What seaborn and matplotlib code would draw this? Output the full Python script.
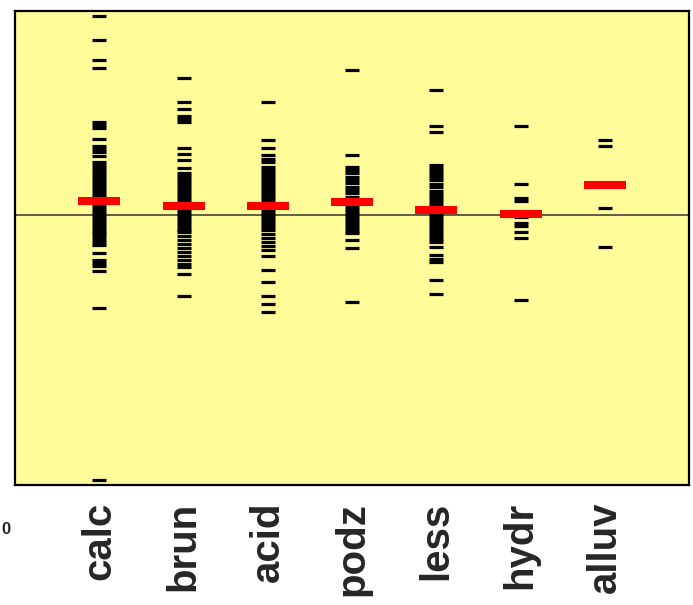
import matplotlib
matplotlib.use("Agg")
import matplotlib.pyplot as plt
import seaborn as sns
import pandas as pd

categories = ["calc", "brun", "acid", "podz", "less", "hydr", "alluv"]

calc = [1.99, 1.75, 1.55, 1.47, 0.93, 0.90, 0.87, 0.76, 0.69, 0.66, 0.63, 0.59,
        0.53, 0.50, 0.47, 0.44, 0.41, 0.38, 0.35, 0.32, 0.29, 0.26, 0.23, 0.20,
        0.17, 0.14, 0.11, 0.08, 0.05, 0.02, -0.01, -0.04, -0.07, -0.10, -0.13,
        -0.16, -0.18, -0.21, -0.24, -0.27, -0.30, -0.38, -0.45, -0.48, -0.51,
        -0.56, -0.93, -2.65]
brun = [1.37, 1.13, 1.06, 0.99, 0.96, 0.93, 0.67, 0.61, 0.55, 0.47,
        0.42, 0.39, 0.36, 0.33, 0.30, 0.27, 0.24, 0.21, 0.18, 0.15, 0.12, 0.09,
        0.06, 0.03, 0.00, -0.03, -0.06, -0.09, -0.12, -0.15, -0.17,
        -0.21, -0.25, -0.29, -0.33, -0.37, -0.41, -0.45, -0.49, -0.52, -0.59, -0.81]
acid = [1.13, 0.75, 0.67, 0.60, 0.56, 0.53,
        0.48, 0.45, 0.42, 0.39, 0.36, 0.33, 0.30, 0.27, 0.24, 0.21, 0.18, 0.15,
        0.12, 0.09, 0.06, 0.03, 0.00, -0.03, -0.06, -0.09, -0.12, -0.15,
        -0.19, -0.23, -0.27, -0.31, -0.35, -0.41, -0.55, -0.67, -0.81, -0.89, -0.97]
podz = [1.45, 0.60, 0.48, 0.45, 0.42, 0.38, 0.35, 0.32, 0.28, 0.25, 0.22, 0.18,
        0.15, 0.12, 0.08, 0.05, 0.02, -0.01, -0.04, -0.07, -0.10, -0.13, -0.16,
        -0.18, -0.25, -0.33, -0.87]
less = [1.25, 0.89, 0.83, 0.50, 0.47, 0.44, 0.41, 0.38, 0.35, 0.31, 0.28, 0.24,
        0.21, 0.18, 0.15, 0.12, 0.09, 0.06, 0.03, 0.00, -0.03, -0.06, -0.09,
        -0.12, -0.15, -0.18, -0.21, -0.24, -0.27, -0.32, -0.40, -0.44, -0.47,
        -0.65, -0.79]
hydr = [0.89, 0.31, 0.17, 0.14, -0.02, -0.08, -0.11, -0.17, -0.23, -0.85]
alluv = [0.75, 0.69, 0.07, -0.32]

means = [0.14, 0.09, 0.09, 0.13, 0.05, 0.01, 0.30]

series = [calc, brun, acid, podz, less, hydr, alluv]
rows = [(c, v) for c, vals in zip(categories, series) for v in vals]
df = pd.DataFrame(rows, columns=["soil", "value"])
df["soil"] = pd.Categorical(df["soil"], categories=categories, ordered=True)
dm = pd.DataFrame({"soil": pd.Categorical(categories, categories=categories, ordered=True),
                   "value": means})

sns.set_style("white")
plt.rcParams["font.family"] = ["Liberation Sans", "DejaVu Sans"]

fig = plt.figure(figsize=(6.93, 6.05), dpi=100)
ax = fig.add_axes([15 / 693, (605 - 485) / 605, 674 / 693, 474 / 605])
ax.set_facecolor("#FFFC99")

ax.axhline(0, color="#333333", lw=1.1, zorder=1)

sns.stripplot(data=df, x="soil", y="value", order=categories, jitter=False,
              marker="_", size=10, linewidth=2.3, color="black",
              edgecolor="black", ax=ax, zorder=3)
sns.stripplot(data=dm, x="soil", y="value", order=categories, jitter=False,
              marker="_", size=30, linewidth=5.8, color="#FF0000",
              edgecolor="#FF0000", ax=ax, zorder=4)

ax.set_xlim(-1, 7)
ax.set_ylim(-2.70, 2.04)
ax.set_yticks([])
ax.set_xlabel("")
ax.set_ylabel("")
ax.tick_params(axis="x", length=0, pad=12)
for lab in ax.get_xticklabels():
    lab.set_rotation(90)
    lab.set_fontsize(29)
    lab.set_fontweight("bold")
    lab.set_va("top")
    lab.set_ha("center")

for s in ax.spines.values():
    s.set_visible(True)
    s.set_color("black")
    s.set_linewidth(1.6)

fig.text(1 / 693, 1 - 529 / 605, "0", ha="left", va="center",
         fontsize=12, fontweight="bold")

fig.savefig("out.png", dpi=100)
